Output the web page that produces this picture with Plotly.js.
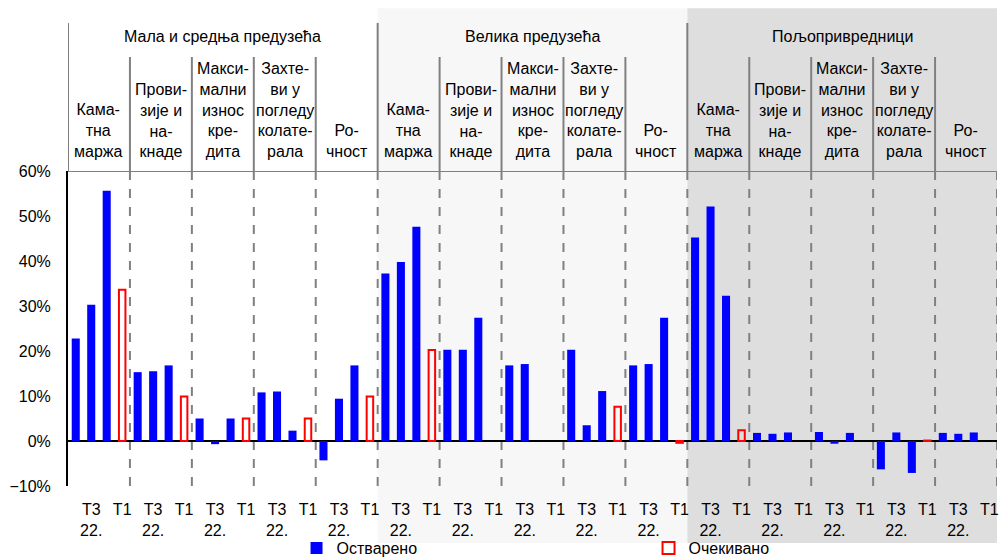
<!DOCTYPE html>
<html>
<head>
<meta charset="utf-8">
<script src="https://cdn.plot.ly/plotly-3.0.1.min.js"></script>
<style>html,body{margin:0;padding:0;background:#fff}</style>
</head>
<body>
<div id="chart" style="width:1000px;height:559px"></div>
<script>
// ---- data ----
var sectors = ["Мала и средња предузећа", "Велика предузећа", "Пољопривредници"];
var factors = [
  "Кама-<br>тна<br>маржа",
  "Прови-<br>зије и<br>на-<br>кнаде",
  "Макси-<br>мални<br>износ<br>кре-<br>дита",
  "Захте-<br>ви у<br>погледу<br>колате-<br>рала",
  "Ро-<br>чност"
];
// realized values (%), 15 groups = 3 sectors x 5 factors
var realizedA = [22.8, 15.3, 5.0, 10.8, -4.3,  37.2, 20.3, 16.8, 20.3, 16.8,  45.2, 1.8, 2.0, -6.3, 1.8];
var realizedB = [30.3, 15.5, -0.7, 11.0, 9.4,  39.8, 20.3, 17.1, 3.5, 17.1,  52.1, 1.6, -0.6, 1.9, 1.6];
var realizedC = [55.6, 16.8, 5.0, 2.3, 16.8,   47.6, 27.4, null, 11.1, 27.4,  32.3, 1.9, 1.8, -7.1, 1.9];
// expected values (%)
var expected  = [33.6, 9.9, 5.0, 5.0, 9.9,     20.2, null, null, 7.6, -0.4,   2.4, null, null, 0.1, null];
var tickFirst = "Т3<br>22.";
var tickLast = "Т1";
var seriesNames = ["Остварено", "Очекивано"];

// ---- build ----
var nGroups = realizedA.length;
var slots = 4;
var bx = [], by = [], rx = [], ry = [];
var tickvals = [], ticktext = [];
for (var g = 0; g < nGroups; g++) {
  var base = g * slots;
  [realizedA[g], realizedB[g], realizedC[g]].forEach(function (v, i) {
    bx.push(base + i); by.push(v);
  });
  rx.push(base + 3); ry.push(expected[g]);
  tickvals.push(base + 1, base + 3);
  ticktext.push(tickFirst, tickLast);
}
var total = nGroups * slots;

var traces = [
  {type: 'bar', name: seriesNames[0], x: bx, y: by, width: 0.52,
   marker: {color: '#0000ff', line: {width: 0}}, hoverinfo: 'skip'},
  {type: 'bar', name: seriesNames[1], x: rx, y: ry, width: 0.42,
   marker: {color: 'rgba(0,0,0,0)', line: {color: '#ff0000', width: 2}}, hoverinfo: 'skip'}
];

var shapes = [];
var bgColors = ['rgba(0,0,0,0)', '#f7f7f7', '#dedede'];
var secLen = total / sectors.length;
var annotations = [];
sectors.forEach(function (s, si) {
  var x0 = si * secLen - 0.5, x1 = (si + 1) * secLen - 0.5;
  shapes.push({type: 'rect', layer: 'below', xref: 'x', yref: 'paper',
    x0: x0, x1: x1, y0: -0.181, y1: 1.517, fillcolor: bgColors[si], line: {width: 0}});
  annotations.push({xref: 'x', yref: 'paper', x: (x0 + x1) / 2, y: 1.426,
    text: s, showarrow: false, yanchor: 'middle', font: {size: 16, color: '#000'}});
});
// header lines & dashed dividers
for (var g = 0; g <= nGroups; g++) {
  var xb = g * slots - 0.5;
  var isSector = (g % factors.length === 0);
  if (g < nGroups) {
    shapes.push({type: 'line', layer: 'above', xref: 'x', yref: 'paper',
      x0: xb, x1: xb, y0: 1, y1: isSector ? 1.47 : 1.362,
      line: {color: '#808080', width: 2}});
  }
  if (g > 0) {
    shapes.push({type: 'line', layer: 'below', xref: 'x', yref: 'paper',
      x0: xb, x1: xb, y0: 0, y1: 1, line: {color: '#808080', width: 2, dash: 'dash'}});
  }
}
// top border line at 60%
shapes.push({type: 'line', layer: 'below', xref: 'paper', yref: 'y',
  x0: 0, x1: 1, y0: 60, y1: 60, line: {color: '#808080', width: 2}});

for (var g = 0; g < nGroups; g++) {
  annotations.push({xref: 'x', yref: 'paper', x: g * slots + 1.5, y: 1.028,
    text: factors[g % factors.length], showarrow: false, yanchor: 'bottom',
    font: {size: 16, color: '#000'}});
}

var layout = {
  width: 1000, height: 559,
  margin: {l: 68, r: 3, t: 171, b: 73, autoexpand: false},
  paper_bgcolor: '#ffffff', plot_bgcolor: 'rgba(0,0,0,0)',
  font: {family: '"Liberation Sans", Arial, sans-serif', size: 16, color: '#000'},
  barmode: 'overlay',
  showlegend: true,
  legend: {orientation: 'h', x: 0.246, xanchor: 'left', y: -0.143, yanchor: 'top',
    entrywidth: 307, entrywidthmode: 'pixels', itemwidth: 30,
    font: {size: 16, color: '#000'}, bgcolor: 'rgba(0,0,0,0)', traceorder: 'normal'},
  xaxis: {range: [-0.5, total - 0.5], tickvals: tickvals, ticktext: ticktext,
    showgrid: false, zeroline: false, showline: false, ticks: '', ticklabelstandoff: 12,
    ticklabeloverflow: 'allow', tickangle: 0, fixedrange: true},
  yaxis: {range: [-10, 60], dtick: 10, ticksuffix: '%', showgrid: false,
    zeroline: true, zerolinecolor: '#000', zerolinewidth: 2,
    showline: true, linecolor: '#000', linewidth: 2, ticks: '', ticklabelstandoff: 12,
    fixedrange: true},
  shapes: shapes,
  annotations: annotations
};

Plotly.newPlot('chart', traces, layout, {displayModeBar: false, staticPlot: true});
</script>
</body>
</html>
